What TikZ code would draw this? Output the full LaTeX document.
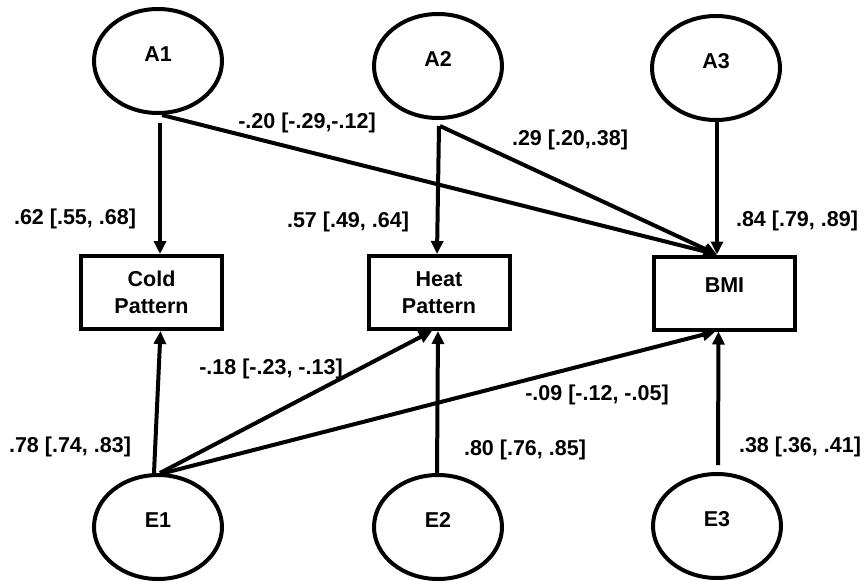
\documentclass[tikz,border=0pt]{standalone}
\usepackage{fontspec}
\setmainfont{Liberation Sans}
\usepackage{tikz}
\usetikzlibrary{shapes.geometric, arrows.meta}
\tikzstyle{latent} = [
  ellipse,
  draw=black,
  line width=4pt,
  minimum width=128pt,
  minimum height=104pt,
  inner sep=0pt,
  text depth=14pt
]
\tikzstyle{observed} = [
  rectangle,
  draw=black,
  line width=4pt,
  minimum width=141pt,
  minimum height=73pt,
  align=center
]
\tikzstyle{arrow} = [line width=4pt,-{Triangle[length=13pt,width=12pt]}]
\tikzstyle{coef} = [inner sep=0pt]

\begin{document}
\begin{tikzpicture}[x=1pt, y=-1pt, font=\fontsize{21.5}{27}\selectfont\bfseries]
    \useasboundingbox (0,0) rectangle (864,581);

    % Factores de arriba
    \node (a1) [latent] at (158,61) {A1};
    \node (a2) [latent] at (438,66) {A2};
    \node (a3) [latent] at (716,68) {A3};

    % Variables observadas
    \node (cold) [observed] at (151.5,292.5) {Cold\\Pattern};
    \node (heat) [observed] at (439,292.5) {Heat\\Pattern};
    \node (bmi) [observed, text depth=16pt] at (724.5,293) {BMI};

    % Errores de abajo
    \node (e1) [latent] at (158,527) {E1};
    \node (e2) [latent] at (438,527) {E2};
    \node (e3) [latent] at (717,526) {E3};

    % Flechas desde A1, A2, A3
    \draw [arrow] ([xshift=2pt,yshift=-8pt]a1.south) -- ([xshift=8.5pt]cold.north);
    \draw [arrow] ([xshift=4pt]a1.south) -- ([xshift=-7.5pt]bmi.north);
    \draw [arrow] ([xshift=1pt,yshift=-6pt]a2.south) -- ([xshift=-2pt]heat.north);
    \draw [arrow] ([xshift=2pt,yshift=-6pt]a2.south) -- ([xshift=-7.5pt]bmi.north);
    \draw [arrow] ([xshift=1pt]a3.south) -- ([xshift=-7.5pt]bmi.north);

    % Flechas desde E1, E2, E3
    \draw [arrow] ([xshift=-4pt]e1.north) -- ([xshift=9pt]cold.south);
    \draw [arrow] ([xshift=2pt]e1.north) -- ([xshift=-7pt]heat.south);
    \draw [arrow] ([xshift=6pt]e1.north) -- ([xshift=-9pt]bmi.south);
    \draw [arrow] ([xshift=-1pt]e2.north) -- ([xshift=-1pt]heat.south);
    \draw [arrow] ([xshift=1pt,yshift=7pt]e3.north) -- ([xshift=-6pt]bmi.south);

    % Coeficientes
    \node (c_a1cold) [coef] at (75,219) {.62 [.55, .68]};
    \node (c_a2heat) [coef] at (348,222) {.57 [.49, .64]};
    \node (c_a3bmi) [coef] at (797,221) {.84 [.79, .89]};
    \node (c_a1bmi) [coef] at (307,123) {-.20 [-.29,-.12]};
    \node (c_a2bmi) [coef] at (570,140) {.29 [.20,.38]};
    \node (c_e1heat) [coef] at (271,369) {-.18 [-.23, -.13]};
    \node (c_e1bmi) [coef] at (597,395) {-.09 [-.12, -.05]};
    \node (c_e1cold) [coef] at (70,447) {.78 [.74, .83]};
    \node (c_e2heat) [coef] at (525,450) {.80 [.76, .85]};
    \node (c_e3bmi) [coef] at (800,447) {.38 [.36, .41]};

\end{tikzpicture}
\end{document}
